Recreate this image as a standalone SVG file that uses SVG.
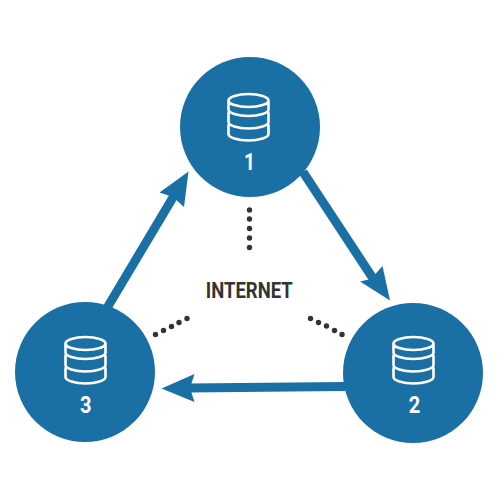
<svg xmlns="http://www.w3.org/2000/svg" width="500" height="500" viewBox="0 0 500 500">
<style>
.disc{fill:#1a70a5}
.db{fill:none;stroke:#fff;stroke-width:2.600}
.num{font-family:Roboto,"Liberation Sans",sans-serif;font-size:24px;font-weight:700;fill:#fff;text-anchor:middle}
.line{stroke:#1a70a5;stroke-width:9;fill:none}
.head{fill:#1a70a5}
.dots circle{fill:#333}
</style>
<defs>
<g id="db">
<path class="db" d="M-20 -13.500A20 6.500 0 0 1 20 -13.500A20 6.500 0 0 1 -20 -13.500ZM-20 -13.500V-4.500C-20 -1 -11 2 0 2S20 -1 20 -4.500V-13.500M-18.500 -3.500C-20 -2.500 -20 -2 -20 -1V8C-20 11.500 -11 14.500 0 14.500S20 11.500 20 8V-1C20 -2 20 -2.500 18.500 -3.500M-18.500 9C-20 10 -20 10.500 -20 11.500V20C-20 23.500 -11 26.500 0 26.500S20 23.500 20 20V11.500C20 10.500 20 10 18.500 9"/>
</g>
</defs>
<g id="connectors">
<path class="line" d="M303 172L376 283"/>
<path class="head" d="M390 300.500L360 281.500L371 279L382.500 266Z"/>
<path class="line" d="M345 386.500L188 388"/>
<path class="head" d="M161.500 388.500L194.500 374L190 388L194.500 402Z"/>
<path class="line" d="M107 308L175 194"/>
<path class="head" d="M188.500 171.500L159.500 192.500L173 197L184 207Z"/>
</g>
<g id="node-1">
<circle class="disc" cx="250" cy="127" r="70"/>
<use href="#db" x="248.500" y="114"/>
<text class="num" x="249.500" y="170" textLength="11" lengthAdjust="spacingAndGlyphs">1</text>
</g>
<g id="node-2">
<circle class="disc" cx="413" cy="373" r="70"/>
<use href="#db" x="413.500" y="357"/>
<text class="num" x="414.500" y="412.500" textLength="11.500" lengthAdjust="spacingAndGlyphs">2</text>
</g>
<g id="node-3">
<circle class="disc" cx="85" cy="372" r="70"/>
<use href="#db" x="85.500" y="357"/>
<text class="num" x="85.700" y="412.500" textLength="11.500" lengthAdjust="spacingAndGlyphs">3</text>
</g>
<g id="internet">
<text x="249.300" y="297.500" font-family="Roboto,'Liberation Sans',sans-serif" font-size="22" font-weight="700" fill="#333" text-anchor="middle" textLength="87" lengthAdjust="spacingAndGlyphs">INTERNET</text>
<g class="dots">
<circle cx="249.500" cy="210" r="2.700"/><circle cx="249.500" cy="219" r="2.700"/><circle cx="249.500" cy="228.500" r="2.700"/><circle cx="249.500" cy="238" r="2.700"/><circle cx="249.500" cy="247.500" r="2.700"/>
<circle cx="155.500" cy="334.500" r="2.700"/><circle cx="163.500" cy="330.500" r="2.700"/><circle cx="171.500" cy="326.500" r="2.700"/><circle cx="179" cy="322.500" r="2.700"/><circle cx="187" cy="318.500" r="2.700"/>
<circle cx="310.500" cy="318.500" r="2.700"/><circle cx="318.500" cy="322.500" r="2.700"/><circle cx="326.500" cy="326" r="2.700"/><circle cx="334.500" cy="330.500" r="2.700"/><circle cx="342" cy="334.500" r="2.700"/>
</g>
</g>
</svg>
